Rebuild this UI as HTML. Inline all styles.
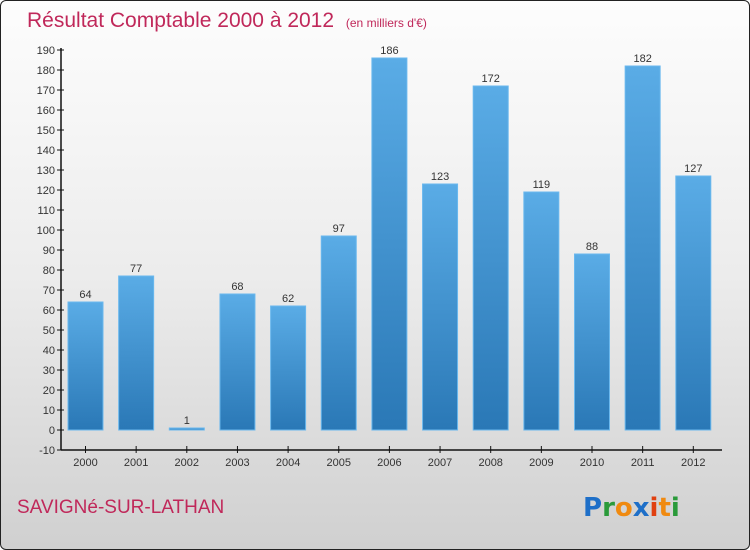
<!DOCTYPE html>
<html><head><meta charset="utf-8"><style>
html,body{margin:0;padding:0}
body{width:750px;height:550px;overflow:hidden;font-family:"Liberation Sans",sans-serif}
#wrap{position:absolute;left:0;top:0;width:748px;height:548px;border:1px solid #222;border-radius:6px;background:linear-gradient(#fdfdfd 0%,#ececec 50%,#d0d0d0 100%);overflow:hidden}
</style></head><body>
<div id="wrap">
<svg id="chart" width="750" height="550" style="position:absolute;left:-1px;top:-1px">
<defs>
<linearGradient id="bg" x1="0" y1="0" x2="0" y2="1"><stop offset="0" stop-color="#5aace6"/><stop offset="1" stop-color="#2a78b6"/></linearGradient>
</defs>
<text x="27" y="27" font-size="21" fill="#c0285a">Résultat Comptable 2000 à 2012 <tspan font-size="12" dx="6">(en milliers d'€)</tspan></text>
<text x="17" y="513" font-size="19" fill="#c0285a">SAVIGNé-SUR-LATHAN</text>
<g font-size="26" font-weight="bold" font-family="'DejaVu Sans',sans-serif">
<text x="583" y="516"><tspan fill="#1e6fc8">P</tspan><tspan fill="#2a9a3a">r</tspan><tspan fill="#f08a10">o</tspan><tspan fill="#1e6fc8">x</tspan><tspan fill="#e04010">i</tspan><tspan fill="#f08a10">t</tspan><tspan fill="#2a9a3a">i</tspan></text>
</g>
<g id="axes"></g>
<g id="bars"></g>
</svg>
</div>
<script>
const years=["2000","2001","2002","2003","2004","2005","2006","2007","2008","2009","2010","2011","2012"];
const values=[64,77,1,68,62,97,186,123,172,119,88,182,127];
const yTicks=[-10,0,10,20,30,40,50,60,70,80,90,100,110,120,130,140,150,160,170,180,190];
const NS="http://www.w3.org/2000/svg";
const y=v=>430-v*2;
const x=i=>85.5+i*50.65;
const ax=document.getElementById('axes'),bg=document.getElementById('bars');
function mk(t,a,p){const e=document.createElementNS(NS,t);for(const k in a)e.setAttribute(k,a[k]);p.appendChild(e);return e;}
let l=mk('line',{x1:61,y1:y(190)-2,x2:61,y2:y(-10),stroke:'#111','stroke-width':1.5},ax);


l=mk('line',{x1:61,y1:y(-10),x2:722,y2:y(-10),stroke:'#111','stroke-width':1.5},ax);


yTicks.forEach(v=>{
 mk('line',{x1:57,x2:64,y1:y(v),y2:y(v),stroke:'#111'},ax);
 const t=mk('text',{x:55,y:y(v)+4,'text-anchor':'end','font-size':11,fill:'#333'},ax);
 t.textContent=v;
 
 
});
years.forEach((yr,i)=>{
 const cx=x(i),v=values[i];
 mk('line',{x1:cx,x2:cx,y1:y(-10)-4,y2:y(-10)+3,stroke:'#111'},ax);
 const t=mk('text',{x:cx,y:466,'text-anchor':'middle','font-size':11,fill:'#333'},ax);
 t.textContent=yr;
 
 
 const top=y(Math.max(v,0)),h=Math.max(Math.abs(v)*2,2);
 const r=mk('rect',{x:cx-17.5,y:Math.min(top,y(0)-2),width:35,height:h,fill:'url(#bg)',stroke:'#6ab8ee','stroke-width':1},bg);
 
 
 const lb=mk('text',{x:cx,y:Math.min(top,y(0)-2)-4,'text-anchor':'middle','font-size':11,fill:'#333'},bg);
 lb.textContent=v;
 
 
});
</script>
</body></html>
